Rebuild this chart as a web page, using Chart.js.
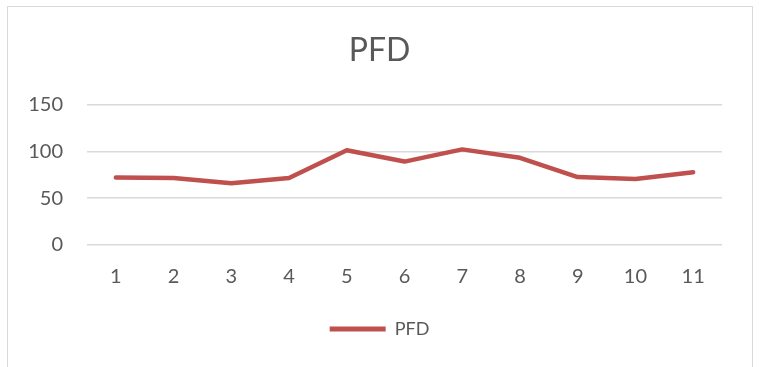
<!DOCTYPE html>
<html>
<head>
<meta charset="utf-8">
<script src="https://cdn.jsdelivr.net/npm/chart.js@4"></script>
<style>
  html, body { margin: 0; padding: 0; background: #ffffff; }
  #wrap { position: relative; width: 759px; height: 367px; }
</style>
</head>
<body>
<div id="wrap"><canvas id="c" width="759" height="367"></canvas></div>
<script>
// Sample index along the horizontal axis
const categories = ['1', '2', '3', '4', '5', '6', '7', '8', '9', '10', '11'];
// PFD readings per sample
const pfdValues = [72, 71.5, 66, 71.5, 101, 89, 102, 93, 72.5, 70.5, 77.5];
// Value axis range and step
const yMin = 0;
const yMax = 150;
const yStep = 50;

const TEXT = '#595959';
const LINE = '#C0504D';
const GRID = '#D9D9D9';
const FONT = 'Lato, "Open Sans", sans-serif';

// Light frame around the chart object
const framePlugin = {
  id: 'frame',
  beforeDraw(chart) {
    const ctx = chart.ctx;
    ctx.save();
    ctx.fillStyle = '#ffffff';
    ctx.fillRect(0, 0, chart.width, chart.height);
    ctx.strokeStyle = GRID;
    ctx.lineWidth = 1;
    ctx.strokeRect(7.5, 6.5, 745, 380);
    ctx.restore();
  }
};

new Chart(document.getElementById('c'), {
  type: 'line',
  data: {
    labels: categories,
    datasets: [{
      label: 'PFD',
      data: pfdValues,
      borderColor: LINE,
      backgroundColor: LINE,
      borderWidth: 4.5,
      pointRadius: 0,
      tension: 0,
      borderCapStyle: 'round',
      borderJoinStyle: 'round'
    }]
  },
  options: {
    responsive: false,
    animation: false,
    devicePixelRatio: 1,
    layout: { padding: { left: 7, right: 7, top: 0, bottom: 19 } },
    plugins: {
      title: {
        display: true,
        text: 'PFD',
        color: TEXT,
        font: { family: FONT, size: 32, weight: 'normal' },
        padding: { top: 31, bottom: 35 }
      },
      legend: {
        position: 'bottom',
        labels: {
          color: TEXT,
          font: { family: FONT, size: 18 },
          boxWidth: 56,
          boxHeight: 5,
          padding: 13,
          generateLabels(chart) {
            return chart.data.datasets.map((ds, i) => ({
              text: ds.label,
              fillStyle: ds.borderColor,
              strokeStyle: ds.borderColor,
              lineWidth: 0,
              fontColor: TEXT,
              datasetIndex: i
            }));
          }
        }
      },
      tooltip: { enabled: false }
    },
    scales: {
      x: {
        offset: true,
        grid: { display: false, drawTicks: false },
        border: { display: false },
        ticks: { color: TEXT, font: { family: FONT, size: 20 }, padding: 20, maxRotation: 0 },
        afterFit(scale) { scale.height = 62; }
      },
      y: {
        min: yMin,
        max: yMax,
        grid: { color: GRID, lineWidth: 1.5, drawTicks: false },
        border: { display: false },
        ticks: { stepSize: yStep, color: TEXT, font: { family: FONT, size: 20 }, padding: 24 },
        afterFit(scale) { scale.width = 80; }
      },
      // empty right margin so the plot ends inside the frame
      yRight: {
        position: 'right',
        min: yMin,
        max: yMax,
        grid: { display: false, drawTicks: false },
        border: { display: false },
        ticks: { display: false },
        afterFit(scale) { scale.width = 30; }
      }
    }
  },
  plugins: [framePlugin]
});
</script>
</body>
</html>
